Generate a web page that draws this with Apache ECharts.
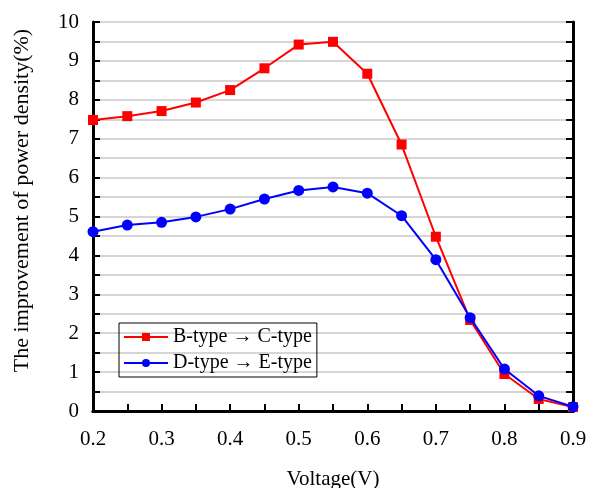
<!DOCTYPE html>
<html>
<head>
<meta charset="utf-8">
<script src="https://cdn.jsdelivr.net/npm/echarts@6/dist/echarts.min.js"></script>
<style>
  html, body { margin: 0; padding: 0; background: #fff; }
  #chart { width: 590px; height: 488px; }
</style>
</head>
<body>
<div id="chart"></div>
<script>
const voltage = [0.2, 0.25, 0.3, 0.35, 0.4, 0.45, 0.5, 0.55, 0.6, 0.65, 0.7, 0.75, 0.8, 0.85, 0.9];
const bToC = [7.48, 7.58, 7.71, 7.93, 8.25, 8.81, 9.42, 9.49, 8.67, 6.85, 4.48, 2.34, 0.95, 0.31, 0.1];
const dToE = [4.61, 4.78, 4.85, 4.99, 5.19, 5.45, 5.67, 5.76, 5.6, 5.02, 3.89, 2.4, 1.08, 0.39, 0.11];
const seriesNames = ['B-type \u2192 C-type', 'D-type \u2192 E-type'];

const font = 'Liberation Serif';
const chart = echarts.init(document.getElementById('chart'));

const pairs = vals => voltage.map((v, i) => [v, vals[i]]);

chart.setOption({
    animation: false,
    textStyle: { fontFamily: font },
    grid: { left: 93, right: 17, top: 22, bottom: 77, outerBoundsMode: 'none', containLabel: false },
    legend: {
        left: 119,
        top: 323,
        orient: 'vertical',
        itemWidth: 44,
        itemHeight: 10,
        itemGap: 6,
        padding: [4, 5, 4, 4],
        borderColor: '#000',
        borderWidth: 1,
        borderRadius: 0,
        textStyle: { fontFamily: font, fontSize: 20, color: '#000' },
        data: seriesNames
    },
    xAxis: [
        {
            type: 'value',
            min: 0.2,
            max: 0.9,
            interval: 0.1,
            name: 'Voltage(V)',
            nameLocation: 'middle',
            nameGap: 58,
            nameTextStyle: { fontFamily: font, fontSize: 21, color: '#000' },
            axisLine: { lineStyle: { color: '#000', width: 3 } },
            axisTick: { inside: true, length: 7, lineStyle: { color: '#000', width: 2 } },
            minorTick: { show: true, splitNumber: 2, length: 7, lineStyle: { color: '#000', width: 2 } },
            axisLabel: { fontFamily: font, fontSize: 21, color: '#000', margin: 18, formatter: v => v.toFixed(1) },
            splitLine: { show: false }
        },
        {
            type: 'value',
            position: 'top',
            min: 0.2,
            max: 0.9,
            axisLine: { show: true, lineStyle: { color: '#000', width: 3 } },
            axisTick: { show: false },
            axisLabel: { show: false },
            splitLine: { show: false }
        }
    ],
    yAxis: [
        {
            type: 'value',
            min: 0,
            max: 10,
            interval: 1,
            name: 'The improvement of power density(%)',
            nameLocation: 'middle',
            nameGap: 60,
            nameTextStyle: { fontFamily: font, fontSize: 22, color: '#000', padding: [0, 0, 0, 32] },
            axisLine: { show: true, lineStyle: { color: '#000', width: 3 } },
            axisTick: { inside: true, length: 7, lineStyle: { color: '#000', width: 2 } },
            minorTick: { show: true, splitNumber: 2, length: 7, lineStyle: { color: '#000', width: 2 } },
            axisLabel: { fontFamily: font, fontSize: 21, color: '#000', margin: 14 },
            splitLine: { show: true, lineStyle: { color: '#c8c8c8', width: 1.5 } },
            minorSplitLine: { show: true, lineStyle: { color: '#c8c8c8', width: 1.5 } }
        },
        {
            type: 'value',
            position: 'right',
            min: 0,
            max: 10,
            interval: 1,
            axisLine: { show: true, lineStyle: { color: '#000', width: 3 } },
            axisTick: { inside: true, length: 7, lineStyle: { color: '#000', width: 2 } },
            minorTick: { show: true, splitNumber: 2, length: 7, lineStyle: { color: '#000', width: 2 } },
            axisLabel: { show: false },
            splitLine: { show: false }
        }
    ],
    series: [
        {
            name: seriesNames[0],
            type: 'line',
            data: pairs(bToC),
            color: '#ff0000',
            symbol: 'rect',
            symbolSize: 10,
            lineStyle: { width: 2 },
            z: 3
        },
        {
            name: seriesNames[1],
            type: 'line',
            data: pairs(dToE),
            color: '#0000ff',
            symbol: 'circle',
            symbolSize: 11,
            lineStyle: { width: 2 },
            z: 4
        }
    ]
});

window.addEventListener('resize', chart.resize);
</script>
</body>
</html>
